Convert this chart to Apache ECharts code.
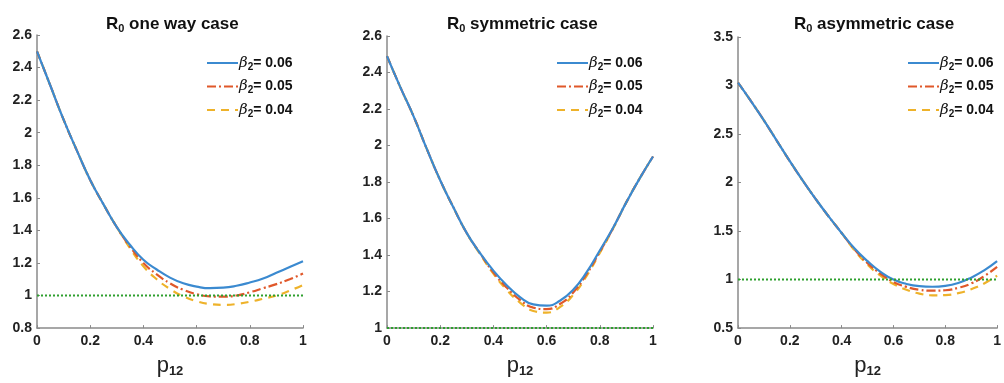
<!DOCTYPE html>
<html>
<head>
<meta charset="utf-8">
<script src="https://cdn.jsdelivr.net/npm/echarts@6/dist/echarts.min.js"></script>
<style>
  html, body { margin: 0; padding: 0; background: #fff; }
  #chart { width: 1004px; height: 383px; }
</style>
</head>
<body>
<div id="chart"></div>
<script>
// p12 sample points (x axis of every panel)
const p12 = [0, 0.05, 0.1, 0.15, 0.2, 0.25, 0.3, 0.35, 0.4, 0.45, 0.5, 0.55, 0.6, 0.65, 0.7, 0.75, 0.8, 0.85, 0.9, 0.95, 1];

// R0 one way case
const oneWay06 = [2.50, 2.29, 2.08, 1.89, 1.71, 1.56, 1.42, 1.31, 1.22, 1.16, 1.11, 1.075, 1.055, 1.045, 1.048, 1.06, 1.08, 1.105, 1.14, 1.175, 1.21];
const oneWay05 = [2.50, 2.29, 2.08, 1.89, 1.71, 1.56, 1.42, 1.30, 1.20, 1.13, 1.075, 1.035, 1.008, 0.995, 0.993, 1.0, 1.02, 1.045, 1.07, 1.10, 1.135];
const oneWay04 = [2.50, 2.29, 2.08, 1.89, 1.71, 1.56, 1.42, 1.29, 1.18, 1.10, 1.04, 0.995, 0.965, 0.948, 0.943, 0.948, 0.962, 0.98, 1.0, 1.03, 1.065];

// R0 symmetric case
const sym06 = [2.49, 2.32, 2.16, 1.98, 1.81, 1.66, 1.52, 1.41, 1.315, 1.235, 1.17, 1.13, 1.123, 1.15, 1.21, 1.305, 1.425, 1.55, 1.69, 1.82, 1.94];
const sym05 = [2.49, 2.32, 2.16, 1.98, 1.81, 1.66, 1.52, 1.41, 1.305, 1.222, 1.155, 1.112, 1.104, 1.132, 1.195, 1.295, 1.418, 1.548, 1.69, 1.82, 1.94];
const sym04 = [2.49, 2.32, 2.16, 1.98, 1.81, 1.66, 1.52, 1.405, 1.298, 1.21, 1.14, 1.094, 1.085, 1.115, 1.182, 1.285, 1.412, 1.545, 1.69, 1.82, 1.94];

// R0 asymmetric case
const asym06 = [3.03, 2.84, 2.64, 2.43, 2.22, 2.02, 1.83, 1.65, 1.48, 1.32, 1.19, 1.08, 1.0, 0.955, 0.932, 0.926, 0.935, 0.965, 1.02, 1.095, 1.19];
const asym05 = [3.03, 2.84, 2.64, 2.43, 2.22, 2.02, 1.83, 1.65, 1.48, 1.31, 1.17, 1.06, 0.975, 0.925, 0.895, 0.886, 0.89, 0.915, 0.96, 1.035, 1.13];
const asym04 = [3.03, 2.84, 2.64, 2.43, 2.22, 2.02, 1.83, 1.65, 1.48, 1.30, 1.155, 1.04, 0.955, 0.895, 0.855, 0.838, 0.84, 0.86, 0.90, 0.96, 1.04];

// threshold line R0 = 1
const threshold = 1;

const betaNames = ["0.06", "0.05", "0.04"];
const panelTitles = ["one way case", "symmetric case", "asymmetric case"];

const chart = echarts.init(document.getElementById("chart"));

const font = "'Liberation Sans', Arial, sans-serif";
const colors = ["#3b8ad0", "#e0582a", "#eeb22a"];
const dashes = ["solid", [9, 3, 2, 3], [8, 6]];

const grids = [
  { left: 37, right: 701, top: 35, bottom: 49 },
  { left: 387, right: 351, top: 36, bottom: 49 },
  { left: 738, right: 2, top: 37, bottom: 50 },
];
const yRanges = [
  { min: 0.8, max: 2.6, interval: 0.2 },
  { min: 1, max: 2.6, interval: 0.2 },
  { min: 0.5, max: 3.5, interval: 0.5 },
];
const panelData = [
  [oneWay06, oneWay05, oneWay04],
  [sym06, sym05, sym04],
  [asym06, asym05, asym04],
];
const titleLeft = [101, 442, 789];
const legendLeft = [201, 551, 902];

const axisGray = "#8a8a8a";

let xAxes = [], yAxes = [], series = [], titles = [], legends = [];

grids.forEach((g, k) => {
  xAxes.push({
    gridIndex: k,
    type: "value",
    min: 0,
    max: 1,
    interval: 0.2,
    name: "{p|p}{s|12}",
    nameLocation: "middle",
    nameGap: 20,
    nameTextStyle: {
      rich: {
        p: { fontSize: 22, fontFamily: font, color: "#222", verticalAlign: "top", lineHeight: 22 },
        s: { fontSize: 13, fontWeight: "bold", fontFamily: font, color: "#222", padding: [12, 0, 0, 0], lineHeight: 22 },
      },
    },
    axisLine: { show: true, lineStyle: { color: axisGray, width: 1.5 } },
    axisTick: { show: true, inside: true, length: 3, lineStyle: { color: axisGray } },
    splitLine: { show: false },
    axisLabel: {
      fontSize: 14,
      fontWeight: "bold",
      fontFamily: font,
      color: "#222",
      margin: 6,
      formatter: (v) => String(+v.toFixed(1)),
    },
  });
  yAxes.push({
    gridIndex: k,
    type: "value",
    min: yRanges[k].min,
    max: yRanges[k].max,
    interval: yRanges[k].interval,
    axisLine: { show: true, lineStyle: { color: axisGray, width: 1.5 } },
    axisTick: { show: true, inside: true, length: 3, lineStyle: { color: axisGray } },
    splitLine: { show: false },
    axisLabel: {
      fontSize: 14,
      fontWeight: "bold",
      fontFamily: font,
      color: "#222",
      margin: 5,
      formatter: (v) => String(+v.toFixed(1)),
    },
  });

  // 三条曲线
  panelData[k].forEach((arr, i) => {
    series.push({
      name: "β" + betaNames[i],
      type: "line",
      xAxisIndex: k,
      yAxisIndex: k,
      smooth: 0.5,
      symbol: "none",
      z: 5 - i,
      lineStyle: { color: colors[i], width: 2.2, type: dashes[i] },
      itemStyle: { color: colors[i] },
      data: p12.map((p, j) => [p, arr[j]]),
    });
  });

  // 绿色虚线 R0 = 1
  series.push({
    name: "threshold",
    type: "line",
    xAxisIndex: k,
    yAxisIndex: k,
    symbol: "none",
    z: 6,
    lineStyle: { color: "#2ea02e", width: 2, type: [2, 2] },
    data: [[0, threshold], [1, threshold]],
  });

  titles.push({
    text: "{r|R}{s|0}{t| " + panelTitles[k] + "}",
    left: titleLeft[k],
    top: 9,
    textStyle: {
      rich: {
        r: { fontSize: 17, fontWeight: "bold", fontFamily: font, color: "#111", lineHeight: 20 },
        s: { fontSize: 11, fontWeight: "bold", fontFamily: font, color: "#111", padding: [10, 0, 0, 0], lineHeight: 20 },
        t: { fontSize: 17, fontWeight: "bold", fontFamily: font, color: "#111", lineHeight: 20 },
      },
    },
  });

  legends.push({
    orient: "vertical",
    left: legendLeft[k],
    top: 49,
    itemWidth: 31,
    itemHeight: 14,
    itemGap: 5.5,
    itemStyle: { opacity: 0 }, // hide the circle symbol, keep the line
    data: betaNames.map((b) => "β" + b),
    formatter: (name) => "{b|β}{s|2}{t|= " + name.slice(1) + "}",
    textStyle: {
      padding: [0, 0, 0, -4],
      rich: {
        b: { fontSize: 15, fontStyle: "italic", fontFamily: "'DejaVu Serif', serif", color: "#111", lineHeight: 16 },
        s: { fontSize: 10, fontWeight: "bold", fontFamily: font, color: "#111", padding: [8, 0, 0, 0], lineHeight: 16 },
        t: { fontSize: 14, fontWeight: "bold", fontFamily: font, color: "#111", lineHeight: 16 },
      },
    },
  });
});

chart.setOption({
  animation: false,
  backgroundColor: "#fff",
  title: titles,
  legend: legends,
  grid: grids,
  xAxis: xAxes,
  yAxis: yAxes,
  series: series,
});
</script>
</body>
</html>
